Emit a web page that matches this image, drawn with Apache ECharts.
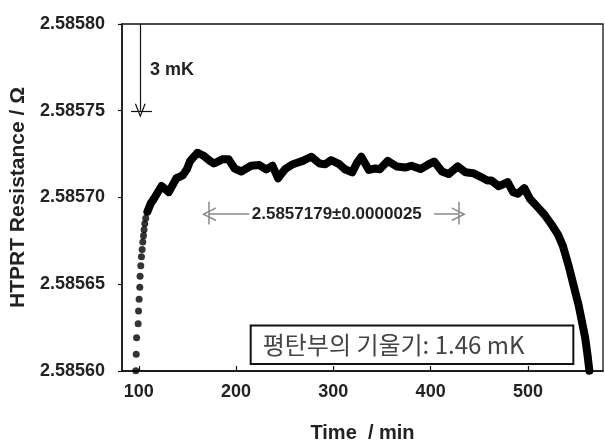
<!DOCTYPE html>
<html><head><meta charset="utf-8">
<script src="https://cdn.jsdelivr.net/npm/echarts@6/dist/echarts.min.js"></script>
<style>html,body{margin:0;padding:0;background:#fff}#c{width:605px;height:448px}</style>
</head><body><div id="c"></div>
<script>
// initial warm-up readings (sparse dots)
const riseTime = [96.9,97.3,97.7,99.3,99.7,100.3,101.0,101.3,102.0,102.7,103.4,104.1,104.8,105.4,106.1,107.1];
const riseR = [2.5856002,2.5856096,2.5856191,2.5856272,2.5856346,2.5856414,2.5856483,2.5856546,2.5856606,2.5856659,2.5856701,2.5856744,2.5856780,2.5856814,2.5856848,2.5856880];
// dense part of the record
const curveTime = [108.8,112.2,115.5,123.4,130.8,138.6,145.2,149.4,152.8,160.4,167.0,173.1,177.2,185.8,192.4,198.5,205.3,215.4,223.9,231.0,237.4,243.1,250.3,258.4,268.5,277.2,285.8,291.6,297.5,306.1,311.9,319.3,324.4,328.7,336.5,343.1,347.7,355.8,365.0,374.4,380.2,389.6,398.2,403.6,411.7,418.5,427.9,436.0,443.7,450.3,458.4,462.4,470.1,479.2,484.8,489.6,496.3,502.0,509.8,517.3,524.4,531.0,536.0,541.9,547.0,552.1,555.5,558.9,561.2,563.2];
const curveR = [2.5856918,2.5856965,2.5856993,2.5857066,2.5857031,2.5857111,2.5857128,2.5857163,2.5857211,2.5857258,2.5857239,2.5857211,2.5857196,2.5857220,2.5857220,2.5857167,2.5857150,2.5857183,2.5857187,2.5857162,2.5857183,2.5857111,2.5857163,2.5857192,2.5857211,2.5857235,2.5857196,2.5857192,2.5857215,2.5857192,2.5857163,2.5857145,2.5857201,2.5857235,2.5857159,2.5857167,2.5857163,2.5857211,2.5857179,2.5857173,2.5857183,2.5857164,2.5857192,2.5857207,2.5857150,2.5857135,2.5857179,2.5857145,2.5857140,2.5857122,2.5857098,2.5857098,2.5857065,2.5857088,2.5857031,2.5857022,2.5857054,2.5856993,2.5856946,2.5856899,2.5856843,2.5856786,2.5856720,2.5856606,2.5856493,2.5856380,2.5856285,2.5856191,2.5856096,2.5856002];
const xTicks = [100,200,300,400,500];
const yTicks = [2.58560,2.58565,2.58570,2.58575,2.58580];
const xRange = [82.7, 577.2];
const stepLabel = '3 mK';
const meanLabel = '2.5857179\u00B10.0000025';
const slopeLabel = '평탄부의 기울기: 1.46 mK';
// annotation anchors (data coordinates)
const stepArrowT = 101.5, stepTop = 2.58580, stepBottom = 2.58575, stepBar = [92.0, 113.5];
const stepTextAt = [134.0, 2.5857734];
const spanT = [172.0, 429.0], spanArrowInner = [213.7, 403.6], spanR = 2.5856904, spanBar = [2.5856975, 2.5856844];
const meanTextAt = [303.5, 2.5856904];
const boxT = [215.0, 546.7], boxR = [2.5856262, 2.5856040];

const chevron = 'path://M0,10 L5,0 L10,10 L8.8,10 L5,2.4 L1.2,10 Z';
const font = 'Liberation Sans, Arial, sans-serif';
const zip = (a, b) => a.map((v, i) => [v, b[i]]);

const chart = echarts.init(document.getElementById('c'), null, {renderer: 'canvas'});
chart.setOption({
  animation: false,
  backgroundColor: '#fff',
  grid: {left: 116, right: 2, top: 24, bottom: 71, show: true, borderColor: '#111', borderWidth: 1.3, backgroundColor: 'transparent'},
  xAxis: {
    type: 'value', min: xRange[0], max: xRange[1],
    axisLine: {show: true, onZero: false, lineStyle: {color: '#111', width: 1.5}},
    axisTick: {show: true, inside: true, length: 5, customValues: xTicks, lineStyle: {color: '#111', width: 1.2}},
    axisLabel: {customValues: xTicks, fontSize: 18, fontWeight: 'bold', color: '#222', fontFamily: font, margin: 12},
    splitLine: {show: false},
    name: 'Time  / min', nameLocation: 'middle', nameGap: 52,
    nameTextStyle: {fontSize: 20, fontWeight: 'bold', color: '#222', fontFamily: font}
  },
  yAxis: {
    type: 'value', min: yTicks[0], max: yTicks[yTicks.length - 1],
    axisLine: {show: true, onZero: false, lineStyle: {color: '#111', width: 1.5}},
    axisTick: {show: true, inside: false, length: 4, customValues: yTicks, lineStyle: {color: '#111', width: 1.2}},
    axisLabel: {customValues: yTicks, formatter: v => v.toFixed(5), fontSize: 18, fontWeight: 'bold', color: '#222', fontFamily: font, margin: 17},
    splitLine: {show: false},
    name: 'HTPRT Resistance / \u03A9', nameLocation: 'middle', nameGap: 93, nameRotate: 90,
    nameTextStyle: {fontSize: 21, fontWeight: 'bold', color: '#222', fontFamily: font}
  },
  series: [
    {
      type: 'scatter', data: zip(riseTime, riseR), symbol: 'circle', symbolSize: 7,
      itemStyle: {color: '#000'}, silent: true, z: 3
    },
    {
      type: 'line', data: zip(curveTime, curveR), symbol: 'circle', symbolSize: 7, showSymbol: true,
      lineStyle: {color: '#000', width: 8, cap: 'round', join: 'round'}, itemStyle: {color: '#000'},
      silent: true, z: 3
    },
    {
      type: 'line', data: [], silent: true, z: 2,
      markArea: {
        silent: true,
        itemStyle: {color: '#fff', borderColor: '#111', borderWidth: 2},
        label: {show: true, position: 'insideLeft', distance: 13, formatter: slopeLabel, color: '#444', fontSize: 24, fontFamily: 'Noto Sans CJK KR'},
        data: [[{coord: [boxT[0], boxR[0]]}, {coord: [boxT[1], boxR[1]]}]]
      },
      markLine: {
        silent: true, symbol: 'none', label: {show: false},
        lineStyle: {color: '#111', width: 1.2, type: 'solid'},
        data: [
          [{coord: [stepArrowT, stepTop], symbol: 'none'}, {coord: [stepArrowT, stepBottom], symbol: chevron, symbolSize: [11, 14]}],
          [{coord: [stepBar[0], stepBottom]}, {coord: [stepBar[1], stepBottom]}],
          [{coord: [spanT[0], spanBar[0]], lineStyle: {color: '#888', width: 1.5}}, {coord: [spanT[0], spanBar[1]]}],
          [{coord: [spanT[1], spanBar[0]], lineStyle: {color: '#888', width: 1.5}}, {coord: [spanT[1], spanBar[1]]}],
          [{coord: [spanArrowInner[0], spanR], symbol: 'none', lineStyle: {color: '#888', width: 1.5}}, {coord: [spanT[0], spanR], symbol: chevron, symbolSize: [14, 14]}],
          [{coord: [spanArrowInner[1], spanR], symbol: 'none', lineStyle: {color: '#888', width: 1.5}}, {coord: [spanT[1], spanR], symbol: chevron, symbolSize: [14, 14]}]
        ]
      },
      markPoint: {
        silent: true, symbol: 'circle', symbolSize: 0,
        data: [
          {coord: stepTextAt, label: {show: true, position: 'inside', formatter: stepLabel, fontSize: 18, fontWeight: 'bold', color: '#222', fontFamily: font}},
          {coord: meanTextAt, label: {show: true, position: 'inside', formatter: meanLabel, fontSize: 17, fontWeight: 'bold', color: '#222', fontFamily: font}}
        ]
      }
    }
  ]
});
</script>
</body></html>
